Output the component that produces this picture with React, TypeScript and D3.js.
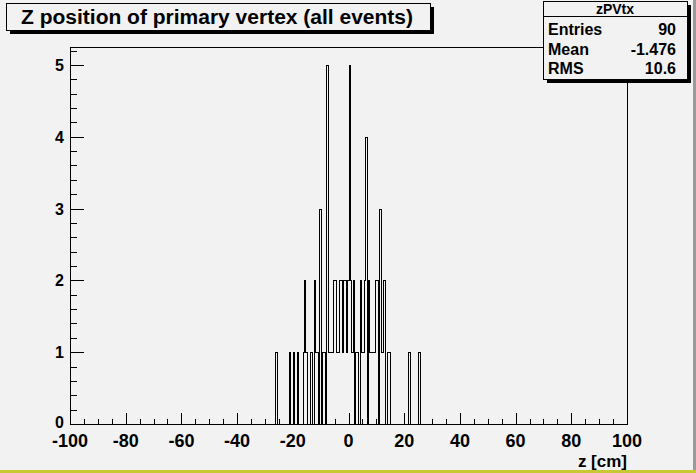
import React from "react";
import * as d3 from "d3";

// histogram zPVtx: 400 bins of 0.5 cm between -100 and 100
const binLow = [
  -26.5, -26, -21.5, -20, -18.5, -16.5, -16, -15.5, -14, -13.5, -12.5, -12,
  -11.5, -10.5, -9.5, -9, -8, -7.5, -7, -6.5, -6, -5.5, -5, -4.5, -4, -3.5,
  -3, -2.5, -2, -1.5, -1, -0.5, 0, 0.5, 1, 1.5, 2.5, 3, 4, 4.5, 5, 5.5, 6,
  7, 7.5, 8, 8.5, 9, 9.5, 10, 11, 11.5, 12, 12.5, 14, 14.5, 21.5, 25,
];
const binCount = [
  1, 1, 1, 1, 1, 1, 2, 1, 1, 1, 2, 1,
  1, 3, 1, 1, 5, 1, 1, 1, 1, 2, 2, 1, 1, 2,
  2, 1, 2, 2, 1, 2, 5, 2, 1, 2, 1, 1, 2, 1, 1, 2, 4,
  2, 1, 1, 1, 1, 2, 2, 3, 1, 1, 2, 1, 1, 1, 1,
];

const xTickLabels = ["-100", "-80", "-60", "-40", "-20", "0", "20", "40", "60", "80", "100"];
const yTickLabels = ["0", "1", "2", "3", "4", "5"];

const histTitle = "Z position of primary vertex (all events)";
const statName = "zPVtx";
const statLabels = ["Entries", "Mean", "RMS"];
const statValues = ["90", "-1.476", "10.6"];
const xTitle = "z [cm]";

const W = 696;
const H = 473;
const BG = "#f2f2f2";
const FONT = "'Liberation Sans', Arial, Helvetica, sans-serif";

export default function App() {
  const ref = React.useRef<SVGSVGElement>(null);

  React.useEffect(() => {
    const svg = d3.select(ref.current);
    svg.selectAll("*").remove();

    const left = 70, right = 627, top = 47, bottom = 424;
    const nBins = 400;
    const xMin = -100, xMax = 100;
    const binW = (xMax - xMin) / nBins;

    const x = d3.scaleLinear().domain([xMin, xMax]).range([left, right]);
    const y = d3.scaleLinear().domain([0, 5.25]).range([bottom, top]);

    // fill the bin contents
    const counts = new Array(nBins).fill(0);
    binLow.forEach((z, i) => {
      const k = Math.round((z - xMin) / binW);
      counts[k] = binCount[i];
    });

    svg.append("rect").attr("width", W).attr("height", H).attr("fill", BG);

    // canvas borders
    svg.append("rect").attr("x", W - 3).attr("y", 0).attr("width", 3).attr("height", H).attr("fill", "#9a9a9a");
    svg.append("rect").attr("x", 0).attr("y", H - 3).attr("width", W).attr("height", 3).attr("fill", "#c8c832");

    // frame
    svg.append("rect")
      .attr("x", left + 0.5).attr("y", top + 0.5)
      .attr("width", right - left).attr("height", bottom - top)
      .attr("fill", "none").attr("stroke", "black").attr("stroke-width", 1);

    // histogram contour
    let d = `M${x(xMin)},${y(0)}`;
    counts.forEach((c, k) => {
      const x0 = Math.round(x(xMin + k * binW)) + 0.5;
      const x1 = Math.round(x(xMin + (k + 1) * binW)) + 0.5;
      d += `L${x0},${Math.round(y(c)) + 0.5}L${x1},${Math.round(y(c)) + 0.5}`;
    });
    d += `L${x(xMax)},${y(0)}`;
    svg.append("path").attr("d", d).attr("fill", "none")
      .attr("stroke", "black").attr("stroke-width", 1)
      .attr("shape-rendering", "crispEdges");

    // x axis ticks
    const g = svg.append("g").attr("shape-rendering", "crispEdges");
    d3.range(xMin, xMax + 0.1, 5).forEach((v) => {
      const major = v % 20 === 0;
      const px = Math.round(x(v)) + 0.5;
      g.append("line").attr("x1", px).attr("x2", px)
        .attr("y1", bottom).attr("y2", bottom - (major ? 11 : 5.5))
        .attr("stroke", "black");
    });
    // y axis ticks
    d3.range(0, 5.21, 0.2).forEach((v) => {
      const major = Math.abs(v - Math.round(v)) < 1e-6;
      const py = Math.round(y(v)) + 0.5;
      g.append("line").attr("x1", left).attr("x2", left + (major ? 14 : 7))
        .attr("y1", py).attr("y2", py).attr("stroke", "black");
    });

    svg.selectAll(".xl").data(xTickLabels).enter().append("text")
      .attr("x", (t) => x(+t)).attr("y", 447)
      .attr("text-anchor", "middle")
      .attr("font-family", FONT).attr("font-weight", "bold").attr("font-size", 18)
      .text((t) => t);

    svg.selectAll(".yl").data(yTickLabels).enter().append("text")
      .attr("x", 64).attr("y", (t) => y(+t) + (+t === 0 ? 4 : 6))
      .attr("text-anchor", "end")
      .attr("font-family", FONT).attr("font-weight", "bold").attr("font-size", 16)
      .text((t) => t);

    svg.append("text").attr("x", right).attr("y", 467)
      .attr("text-anchor", "end")
      .attr("font-family", FONT).attr("font-weight", "bold").attr("font-size", 17)
      .text(xTitle);

    // title box
    svg.append("rect").attr("x", 10).attr("y", 7).attr("width", 424).attr("height", 27).attr("fill", "black");
    svg.append("rect").attr("x", 6.5).attr("y", 3.5).attr("width", 424).attr("height", 27)
      .attr("fill", BG).attr("stroke", "black");
    svg.append("text").attr("x", 21).attr("y", 24)
      .attr("font-family", FONT).attr("font-weight", "bold").attr("font-size", 20)
      .attr("textLength", 392).attr("lengthAdjust", "spacingAndGlyphs")
      .text(histTitle);

    // stats box
    const sx = 543, sy = 1, sw = 144, sh = 78;
    svg.append("rect").attr("x", sx + 4).attr("y", sy + 4).attr("width", sw).attr("height", sh).attr("fill", "black");
    svg.append("rect").attr("x", sx + 0.5).attr("y", sy + 0.5).attr("width", sw).attr("height", sh)
      .attr("fill", BG).attr("stroke", "black");
    svg.append("line").attr("x1", sx).attr("x2", sx + sw).attr("y1", 16.5).attr("y2", 16.5).attr("stroke", "black");
    svg.append("text").attr("x", sx + sw / 2).attr("y", 14)
      .attr("text-anchor", "middle")
      .attr("font-family", FONT).attr("font-weight", "bold").attr("font-size", 14)
      .text(statName);
    statLabels.forEach((l, i) => {
      const by = 35 + i * 19.5;
      svg.append("text").attr("x", sx + 5).attr("y", by)
        .attr("font-family", FONT).attr("font-weight", "bold").attr("font-size", 16)
        .text(l);
      svg.append("text").attr("x", sx + sw - 11).attr("y", by)
        .attr("text-anchor", "end")
        .attr("font-family", FONT).attr("font-weight", "bold").attr("font-size", 16)
        .text(statValues[i]);
    });
  }, []);

  return (
    <svg ref={ref} width={W} height={H} style={{ display: "block", position: "absolute", left: 0, top: 0 }} />
  );
}
